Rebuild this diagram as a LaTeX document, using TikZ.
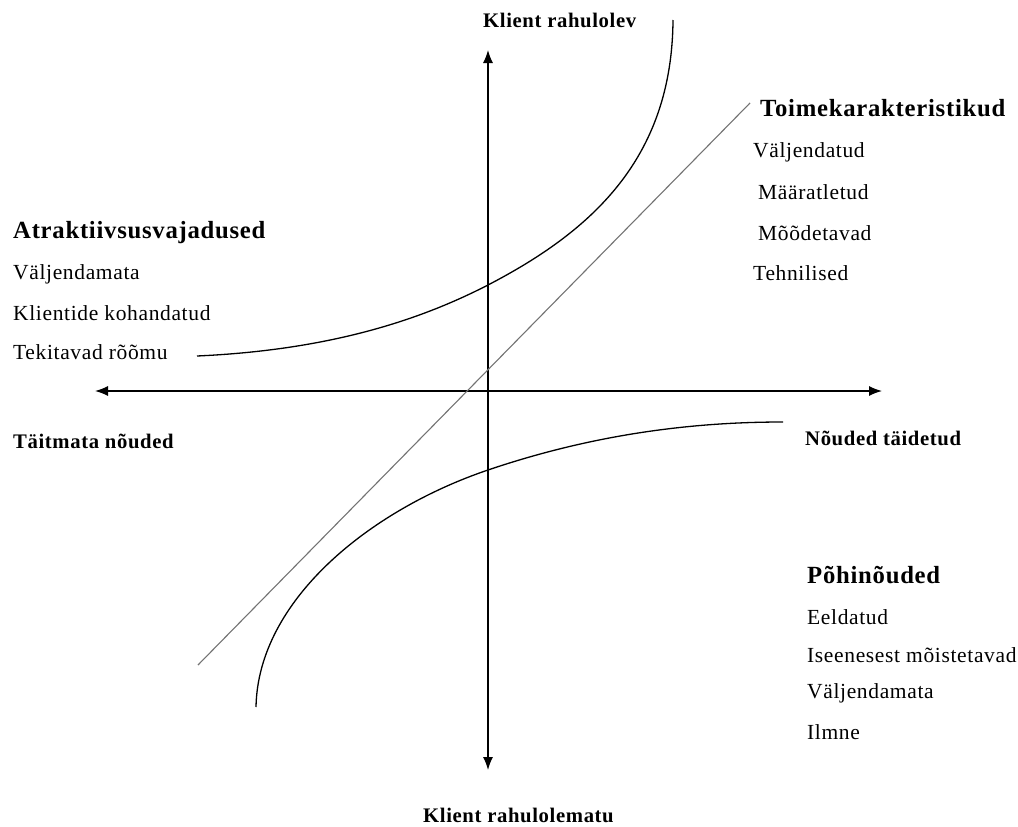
\documentclass[tikz,border=0pt]{standalone}
\usepackage{fontspec}
\setmainfont{Liberation Serif}[LetterSpace=3]
\usetikzlibrary{arrows.meta}

\begin{document}
\begin{tikzpicture}[
    x=1pt, y=-1pt,
    type-axis/.style={draw=black, line width=1.3pt, {Latex[length=13pt,width=10pt]}-{Latex[length=13pt,width=10pt]}},
    type-curve/.style={draw=black, line width=1.3pt},
    type-diag/.style={draw=black!55, line width=1.1pt},
    type-head/.style={anchor=west, inner sep=0pt, font=\fontsize{24.7}{30}\selectfont\bfseries},
    type-item/.style={anchor=west, inner sep=0pt, font=\fontsize{21.5}{26}\selectfont},
    type-axislabel/.style={anchor=west, inner sep=0pt, font=\fontsize{20.7}{25}\selectfont\bfseries}
  ]
  \useasboundingbox (0,0) rectangle (1018,827);

  % axes
  \coordinate (top) at (488,50);
  \coordinate (bottom) at (488,770);
  \coordinate (left) at (95,391);
  \coordinate (right) at (882,391);
  \draw[type-axis] (bottom) -- (top);
  \draw[type-axis] (left) -- (right);

  \node[type-axislabel] (satisfied) at (483,20) {Klient rahulolev};
  \node[type-axislabel] (dissatisfied) at (423,815) {Klient rahulolematu};
  \node[type-axislabel] (unfulfilled) at (13,441) {Täitmata nõuded};
  \node[type-axislabel] (fulfilled) at (805,438) {Nõuded täidetud};

  % curves
  \coordinate (perf-start) at (198,665);
  \coordinate (perf-end) at (750,103);
  \draw[type-diag] (perf-start) -- (perf-end);
  \draw[type-curve] (197,356) .. controls (330,350) and (420,320) .. (488,285)
    .. controls (590,232) and (672,160) .. (673,20);
  \draw[type-curve] (256,707) .. controls (258,600) and (370,510) .. (488,470)
    .. controls (600,432) and (700,422) .. (783,422);

  % performance
  \node[type-head] (perf) at (760,108) {Toimekarakteristikud};
  \node[type-item] (perf-1) at (753,152) {Väljendatud};
  \node[type-item] (perf-2) at (758,192) {Määratletud};
  \node[type-item] (perf-3) at (758,233) {Mõõdetavad};
  \node[type-item] (perf-4) at (753,273) {Tehnilised};

  % attractive
  \node[type-head] (attr) at (13,233) {Atraktiivsusvajadused};
  \node[type-item] (attr-1) at (13,274) {Väljendamata};
  \node[type-item] (attr-2) at (13,313) {Klientide kohandatud};
  \node[type-item] (attr-3) at (13,352) {Tekitavad rõõmu};

  % basic
  \node[type-head] (basic) at (807,575) {Põhinõuded};
  \node[type-item] (basic-1) at (807,617) {Eeldatud};
  \node[type-item] (basic-2) at (807,655) {Iseenesest mõistetavad};
  \node[type-item] (basic-3) at (807,693) {Väljendamata};
  \node[type-item] (basic-4) at (807,732) {Ilmne};
\end{tikzpicture}
\end{document}
